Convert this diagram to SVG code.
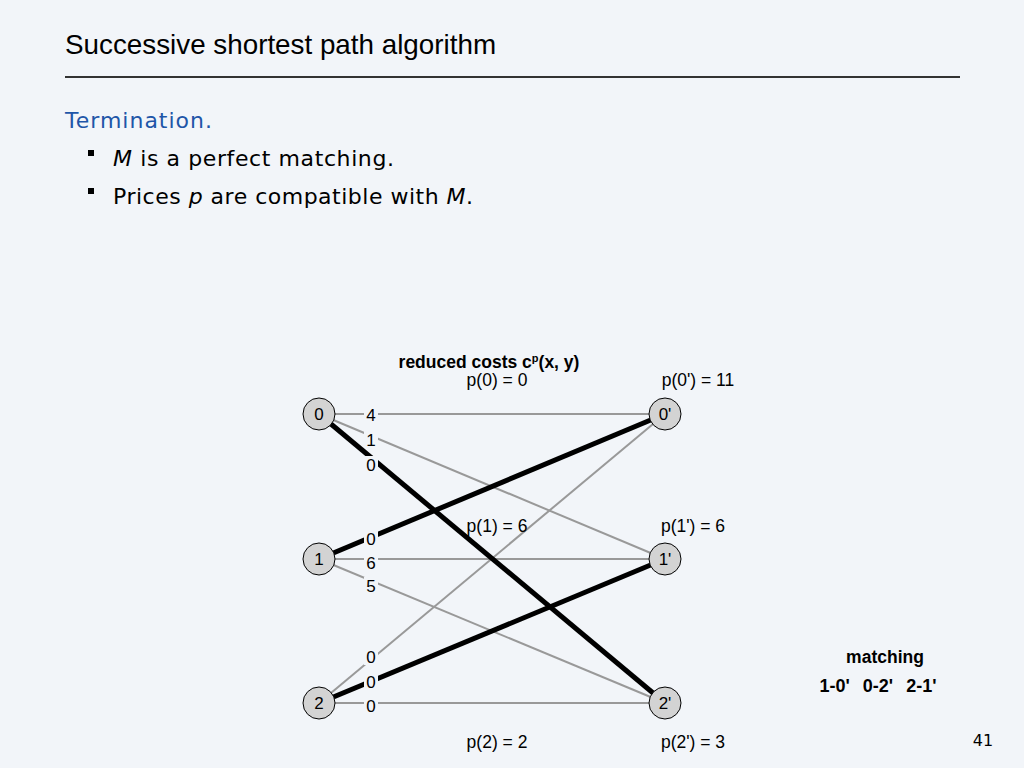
<svg xmlns="http://www.w3.org/2000/svg" width="1024" height="768" viewBox="0 0 1024 768">
<style>
.bg{fill:#f2f5f9}
.t{font-family:"Liberation Sans",Arial,sans-serif;fill:#000}
.d{font-family:"DejaVu Sans","Noto Sans",sans-serif}
.g{stroke:#999;stroke-width:2;fill:none}
.k{stroke:#000;stroke-width:5;fill:none}
.n circle{fill:#d3d3d3;stroke:#000;stroke-width:1}
.n text{font-family:"Liberation Sans",Arial,sans-serif;font-size:17px;text-anchor:middle}
.lb rect{fill:#f2f5f9}
.lb text{font-family:"Liberation Sans",Arial,sans-serif;font-size:17px;text-anchor:middle}
.p{font-family:"Liberation Sans",Arial,sans-serif;font-size:17.5px;text-anchor:middle}
.b{font-weight:bold}
</style>
<rect class="bg" x="0" y="0" width="1024" height="768"/>
<text class="t" x="65" y="54" font-size="27.8">Successive shortest path algorithm</text>
<line x1="65" y1="77" x2="960" y2="77" stroke="#333" stroke-width="2"/>
<text class="d" x="65" y="128" font-size="22" letter-spacing="1" fill="#1f56a8">Termination.</text>
<rect x="88" y="150" width="6" height="6" fill="#000"/>
<text class="d" x="113" y="166" font-size="22" letter-spacing="0.6"><tspan font-style="italic">M</tspan> is a perfect matching.</text>
<rect x="88" y="188" width="6" height="6" fill="#000"/>
<text class="d" x="113" y="204" font-size="22" letter-spacing="0.5">Prices <tspan font-style="italic">p</tspan> are compatible with <tspan font-style="italic">M</tspan>.</text>

<g id="connectors">
<line class="g" x1="319" y1="414" x2="665" y2="414"/>
<line class="g" x1="319" y1="414" x2="665" y2="559"/>
<line class="g" x1="319" y1="559" x2="665" y2="559"/>
<line class="g" x1="319" y1="559" x2="665" y2="703"/>
<line class="g" x1="319" y1="703" x2="665" y2="414"/>
<line class="g" x1="319" y1="703" x2="665" y2="703"/>
<line class="k" x1="319" y1="414" x2="665" y2="703"/>
<line class="k" x1="319" y1="559" x2="665" y2="414"/>
<line class="k" x1="319" y1="703" x2="665" y2="559"/>
</g>
<g id="edge-labels" class="lb">
<rect x="364" y="406" width="14" height="17"/><text x="371" y="421">4</text>
<rect x="364" y="431" width="14" height="17"/><text x="371" y="446">1</text>
<rect x="364" y="456" width="14" height="17"/><text x="371" y="471">0</text>
<rect x="364" y="530" width="14" height="17"/><text x="371" y="545">0</text>
<rect x="364" y="554" width="14" height="17"/><text x="371" y="569">6</text>
<rect x="364" y="577" width="14" height="17"/><text x="371" y="592">5</text>
<rect x="364" y="648" width="14" height="17"/><text x="371" y="663">0</text>
<rect x="364" y="673" width="14" height="17"/><text x="371" y="688">0</text>
<rect x="364" y="697" width="14" height="17"/><text x="371" y="712">0</text>
</g>
<g id="node-0" class="n"><circle cx="319" cy="414" r="16"/><text x="319" y="420">0</text></g>
<g id="node-1" class="n"><circle cx="319" cy="559" r="16"/><text x="319" y="565">1</text></g>
<g id="node-2" class="n"><circle cx="319" cy="703" r="16"/><text x="319" y="709">2</text></g>
<g id="node-0p" class="n"><circle cx="665" cy="414" r="16"/><text x="665" y="420">0'</text></g>
<g id="node-1p" class="n"><circle cx="665" cy="559" r="16"/><text x="665" y="565">1'</text></g>
<g id="node-2p" class="n"><circle cx="665" cy="703" r="16"/><text x="665" y="709">2'</text></g>

<text class="p b" x="489" y="368">reduced costs c<tspan font-size="11" dy="-6">p</tspan><tspan dy="6">(x, y)</tspan></text>
<text class="p" x="497" y="386">p(0) = 0</text>
<text class="p" x="698" y="386">p(0') = 11</text>
<text class="p" x="497" y="532">p(1) = 6</text>
<text class="p" x="693" y="532">p(1') = 6</text>
<text class="p" x="497" y="748">p(2) = 2</text>
<text class="p" x="693" y="748">p(2') = 3</text>
<text class="p b" x="885" y="663">matching</text>
<text class="p b" x="878" y="692" style="font-size:18px;word-spacing:1.5px" xml:space="preserve">1-0'  0-2'  2-1'</text>
<text class="d" x="983" y="746" font-size="16" text-anchor="middle">41</text>
</svg>
